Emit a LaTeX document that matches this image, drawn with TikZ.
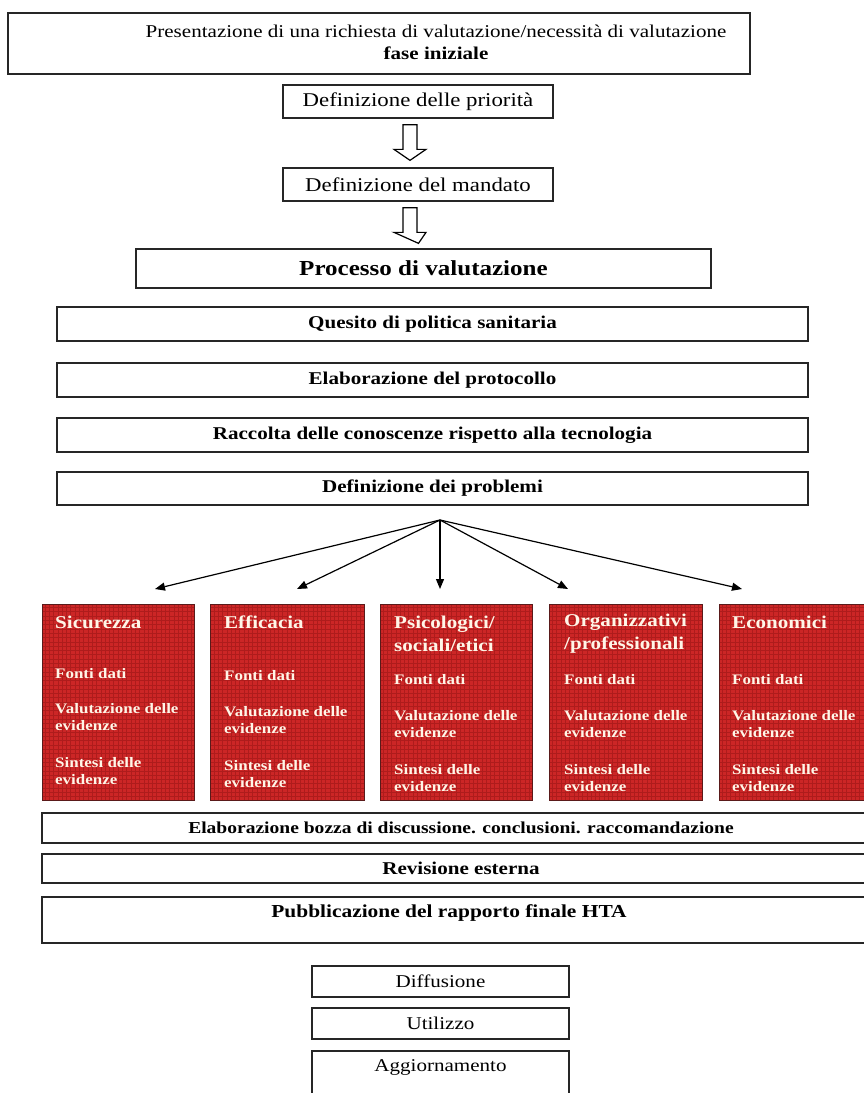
\documentclass[tikz,border=0pt]{standalone}
\usepackage{fontspec}
\setmainfont{Liberation Serif}[FakeStretch=1.17]
\usetikzlibrary{arrows.meta,calc}

\definecolor{boxred}{HTML}{CC2626}
\definecolor{gridred}{HTML}{AE1C1C}
\definecolor{rededge}{HTML}{5A1A1A}
\definecolor{redtxt}{HTML}{FFF6E8}

\newcommand\fs[1]{\fontsize{#1}{1.2\dimexpr#1pt\relax}\selectfont}

\begin{document}
\begin{tikzpicture}[x=1pt,y=-1pt,
  frame/.style={draw=black!85, line width=1.3pt, fill=white, inner sep=0pt, align=center},
  phase/.style={frame, font=\fs{18}},
  phasebold/.style={frame, font=\fs{18}\bfseries},
  riskbox/.style={draw=rededge, line width=1pt, fill=boxred, minimum width=152, minimum height=196,
    path picture={\draw[gridred, line width=0.55pt, step=4.3pt]
      (path picture bounding box.south west) grid (path picture bounding box.north east);}},
  risktitle/.style={anchor=west, inner sep=0pt, text=redtxt, align=left,
    font=\fontsize{18}{23}\selectfont\bfseries},
  riskitem/.style={anchor=west, inner sep=0pt, text=redtxt, align=left,
    font=\fontsize{14.5}{17}\selectfont\bfseries},
  fanarrow/.style={-{Triangle[length=10pt,width=8pt]}, line width=1.2pt, black},
  hollowdown/.style={draw=black, line width=1.2pt, fill=white, to path={
    let \p1=(\tikztostart), \p2=(\tikztotarget) in
    (\x1-7pt,\y1) -- (\x1-7pt,\y2+11pt) -- (\x1-16pt,\y2+11pt) -- (\x2,\y2)
    -- (\x1+16pt,\y2+11pt) -- (\x1+7pt,\y2+11pt) -- (\x1+7pt,\y1) -- cycle}}
]
\useasboundingbox (0,0) rectangle (864,1093);
\clip (0,0) rectangle (864,1093);

% initial phase
\node[frame, minimum width=742, minimum height=61] (init) at (379,43.5) {};
\node[inner sep=0pt, align=center, font=\fontsize{18}{22}\selectfont] (inittext)
  at ($(init.center)+(57,-1.5)$)
  {Presentazione di una richiesta di valutazione/necessità di valutazione\\
   \bfseries fase iniziale};
\node[frame, font=\fs{19.5}, minimum width=270, minimum height=33] (prio) at (418,101.5) {Definizione delle priorità};
\node[frame, font=\fs{19.5}, minimum width=270, minimum height=33] (mand) at (418,184.5) {Definizione del mandato};

\draw[hollowdown] ($(prio.south)+(-8,6)$) to ($(mand.north)+(-8,-7)$);

% assessment process
\node[frame, minimum width=575, minimum height=39, font=\fs{21.4}\bfseries] (proc) at (423.5,268.5)
  {Processo di valutazione};
\draw[hollowdown] ($(mand.south)+(-8,6)$) to ($(proc.north)+(-5,-5)$);

\node[phasebold, minimum width=751, minimum height=34] (ques) at (432.5,324) {Quesito di politica sanitaria};
\node[phasebold, minimum width=751, minimum height=34] (prot) at (432.5,380) {Elaborazione del protocollo};
\node[phasebold, minimum width=751, minimum height=34] (racc) at (432.5,435) {Raccolta delle conoscenze rispetto alla tecnologia};
\node[phasebold, minimum width=751, minimum height=33] (prob) at (432.5,488.5) {Definizione dei problemi};

% assessment domains
\node[riskbox] (sic) at (118,702) {};
\node[riskbox, minimum width=154] (eff) at (287,702) {};
\node[riskbox] (psi) at (456,702) {};
\node[riskbox, minimum width=153] (org) at (625.5,702) {};
\node[riskbox] (eco) at (795,702) {};

\node[risktitle] at (55,622) {Sicurezza};
\node[riskitem] at (55,674) {Fonti dati};
\node[riskitem] at (55,717.5) {Valutazione delle\\evidenze};
\node[riskitem] at (55,771) {Sintesi delle\\evidenze};

\node[risktitle] at (224,622) {Efficacia};
\node[riskitem] at (224,676) {Fonti dati};
\node[riskitem] at (224,720.5) {Valutazione delle\\evidenze};
\node[riskitem] at (224,774) {Sintesi delle\\evidenze};

\node[risktitle] at (394,633.5) {Psicologici/\\sociali/etici};
\node[riskitem] at (394,680) {Fonti dati};
\node[riskitem] at (394,724) {Valutazione delle\\evidenze};
\node[riskitem] at (394,778) {Sintesi delle\\evidenze};

\node[risktitle] at (564,633.5) {Organizzativi\\/professionali};
\node[riskitem] at (564,680) {Fonti dati};
\node[riskitem] at (564,724) {Valutazione delle\\evidenze};
\node[riskitem] at (564,778) {Sintesi delle\\evidenze};

\node[risktitle] at (732,622) {Economici};
\node[riskitem] at (732,680) {Fonti dati};
\node[riskitem] at (732,724) {Valutazione delle\\evidenze};
\node[riskitem] at (732,778) {Sintesi delle\\evidenze};

% fan of arrows from the problem definition
\coordinate (fan) at (440,520);
\coordinate (tsic) at (155,589);
\coordinate (teff) at (297,589);
\coordinate (tpsi) at (440,589);
\coordinate (torg) at (568,589);
\coordinate (teco) at (742,589);
\foreach \t in {tsic,teff,tpsi,torg,teco}
  \draw[fanarrow] (fan) -- (\t);

% closing phases
\node[frame, font=\fs{16.7}\bfseries, minimum width=838, minimum height=30] (elab) at (461,828)
  {Elaborazione bozza di discussione. conclusioni. raccomandazione};
\node[phasebold, minimum width=838, minimum height=29] (rev) at (461,868.5) {Revisione esterna};
\node[frame, minimum width=838, minimum height=46] (pub) at (461,920) {};
\node[inner sep=0pt, font=\fs{18.3}\bfseries] (pubtext) at ($(pub.north)+(-12,17)$)
  {Pubblicazione del rapporto finale HTA};

\node[phase, minimum width=257, minimum height=31] (diff) at (440.5,981.5) {Diffusione};
\node[phase, minimum width=257, minimum height=31] (util) at (440.5,1023.5) {Utilizzo};
\node[frame, minimum width=257, minimum height=50] (agg) at (440.5,1076) {};
\node[inner sep=0pt, font=\fs{18}] (aggtext) at ($(agg.north)+(0,17)$) {Aggiornamento};
\end{tikzpicture}
\end{document}
